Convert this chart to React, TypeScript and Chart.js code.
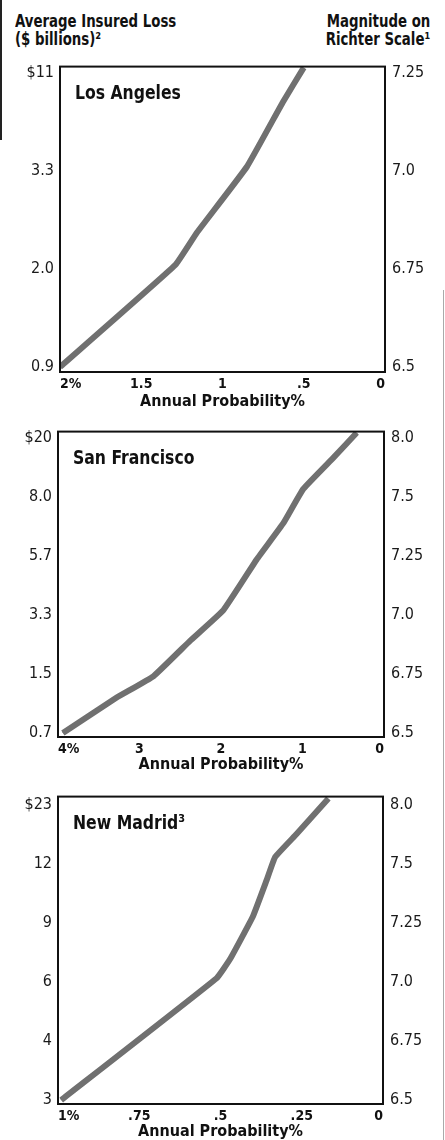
import React, { useEffect, useRef } from "react";
import { Chart, registerables } from "chart.js";

Chart.register(...registerables);

const FONT = "'Liberation Sans Narrow', 'DejaVu Sans Condensed', 'Arial Narrow', sans-serif";

// ---------- Data ----------
// Los Angeles
const laProb = [2.0, 1.29, 1.157, 0.85, 0.628, 0.5];
const laMag = [6.5, 6.76, 6.8425, 7.01, 7.175, 7.2625];
const laMagTicks = [6.5, 6.75, 7.0, 7.25];
const laMagLabels = ["6.5", "6.75", "7.0", "7.25"];
const laLossLabels = ["0.9", "2.0", "3.3", "$11"];
const laXTicks = [0, 0.5, 1, 1.5, 2];
const laXLabels = ["0", ".5", "1", "1.5", "2%"];

// San Francisco
const sfProb = [3.94, 3.28, 2.83, 2.38, 1.97, 1.56, 1.235, 0.99, 0.62, 0.335];
const sfMag = [6.5, 6.65, 6.74, 6.89, 7.02, 7.235, 7.3875, 7.565, 7.83, 8.04];
const sfMagTicks = [6.5, 6.75, 7.0, 7.25, 7.5, 8.0];
const sfMagLabels = ["6.5", "6.75", "7.0", "7.25", "7.5", "8.0"];
const sfLossLabels = ["0.7", "1.5", "3.3", "5.7", "8.0", "$20"];
const sfXTicks = [0, 1, 2, 3, 4];
const sfXLabels = ["0", "1", "2", "3", "4%"];

// New Madrid
const nmProb = [0.99, 0.512, 0.47, 0.4, 0.358, 0.332, 0.266, 0.168];
const nmMag = [6.5, 7.015, 7.0975, 7.2775, 7.43, 7.555, 7.75, 8.05];
const nmMagTicks = [6.5, 6.75, 7.0, 7.25, 7.5, 8.0];
const nmMagLabels = ["6.5", "6.75", "7.0", "7.25", "7.5", "8.0"];
const nmLossLabels = ["3", "4", "6", "9", "12", "$23"];
const nmXTicks = [0, 0.25, 0.5, 0.75, 1];
const nmXLabels = ["0", ".25", ".5", ".75", "1%"];

// ---------- Helpers ----------
function magToIndex(m: number, ticks: number[]): number {
  const n = ticks.length;
  let i = 0;
  while (i < n - 2 && m > ticks[i + 1]) i++;
  const a = ticks[i];
  const b = ticks[i + 1];
  return i + (m - a) / (b - a);
}

type PanelProps = {
  title: string;
  prob: number[];
  mag: number[];
  magTicks: number[];
  magLabels: string[];
  lossLabels: string[];
  xTicks: number[];
  xLabels: string[];
  layout: {
    boxLeft: number;
    boxRight: number;
    boxTop: number;
    boxBottom: number;
    idxMin: number;
    idxMax: number;
    canvasTop: number;
    canvasBottom: number;
  };
};

const W = 445;

function Panel(props: PanelProps) {
  const ref = useRef<HTMLCanvasElement | null>(null);
  const { layout } = props;
  const height = layout.canvasBottom - layout.canvasTop;

  useEffect(() => {
    const canvas = ref.current;
    if (!canvas) return;
    const ctx = canvas.getContext("2d");
    if (!ctx) return;

    const pc = document.createElement("canvas");
    pc.width = 4;
    pc.height = 4;
    const g = pc.getContext("2d")!;
    g.fillStyle = "#b8b8b8";
    g.fillRect(0, 0, 4, 4);
    g.fillStyle = "#6a6a6a";
    for (let i = 0; i < 4; i++) {
      g.fillRect(i, 3 - i, 1, 1);
    }
    const pattern = ctx.createPattern(pc, "repeat");

    const points = props.prob.map((p, i) => ({ x: p, y: magToIndex(props.mag[i], props.magTicks) }));
    const xMax = Math.max(...props.xTicks);

    const boxPlugin = {
      id: "boxAndTitle",
      afterDatasetsDraw(chart: any) {
        const { ctx: c, chartArea: a } = chart;
        c.save();
        c.strokeStyle = "#111";
        c.lineWidth = 2;
        c.strokeRect(a.left, a.top, a.right - a.left, a.bottom - a.top);
        c.fillStyle = "#111";
        c.font = `bold 20px ${FONT}`;
        c.textBaseline = "alphabetic";
        c.textAlign = "left";
        c.translate(a.left + 15, a.top + 32);
        c.scale(0.87, 1);
        c.fillText(props.title, 0, 0);
        c.restore();
      },
    };

    const chart = new Chart(ctx, {
      type: "line",
      data: {
        datasets: [
          {
            data: points,
            borderColor: "#707070",
            borderWidth: 6,
            pointRadius: 0,
            tension: 0.1,
            borderCapStyle: "butt",
            borderJoinStyle: "round",
            fill: false,
          },
          {
            data: points,
            borderColor: pattern as any,
            borderWidth: 3.5,
            pointRadius: 0,
            tension: 0.1,
            borderCapStyle: "butt",
            borderJoinStyle: "round",
            fill: false,
          },
        ],
      },
      options: {
        animation: false,
        responsive: false,
        maintainAspectRatio: false,
        devicePixelRatio: 1,
        events: [],
        layout: { padding: { top: layout.boxTop - layout.canvasTop, left: 0, right: 0, bottom: 0 } },
        plugins: { legend: { display: false }, tooltip: { enabled: false } },
        scales: {
          x: {
            type: "linear",
            position: "bottom",
            min: 0,
            max: xMax,
            reverse: true,
            grid: { display: false, drawTicks: false },
            border: { display: false },
            afterBuildTicks: (s: any) => {
              s.ticks = props.xTicks.map((v) => ({ value: v }));
            },
            afterFit: (s: any) => {
              s.height = layout.canvasBottom - layout.boxBottom;
            },
            ticks: {
              callback: (v: any) => {
                const i = props.xTicks.indexOf(Number(v));
                return i >= 0 ? props.xLabels[i] : "";
              },
              font: { family: FONT, weight: "bold", size: 14 },
              color: "#111",
              padding: 4,
              align: "inner",
              maxRotation: 0,
              autoSkip: false,
            },
            title: {
              display: true,
              text: "Annual Probability%",
              font: { family: FONT, weight: "bold", size: 16, lineHeight: 1 },
              color: "#111",
              padding: 0,
            },
          },
          y: {
            type: "linear",
            position: "left",
            min: layout.idxMin,
            max: layout.idxMax,
            grid: { display: false, drawTicks: false },
            border: { display: false },
            afterBuildTicks: (s: any) => {
              s.ticks = props.lossLabels.map((_, i) => ({ value: i }));
            },
            afterFit: (s: any) => {
              s.width = layout.boxLeft;
            },
            ticks: {
              callback: (v: any) => props.lossLabels[Math.round(Number(v))] ?? "",
              font: { family: FONT, size: 16 },
              color: "#1a1a1a",
              padding: 6,
              autoSkip: false,
            },
          },
          y2: {
            type: "linear",
            position: "right",
            min: layout.idxMin,
            max: layout.idxMax,
            grid: { display: false, drawTicks: false },
            border: { display: false },
            afterBuildTicks: (s: any) => {
              s.ticks = props.magLabels.map((_, i) => ({ value: i }));
            },
            afterFit: (s: any) => {
              s.width = W - layout.boxRight;
            },
            ticks: {
              callback: (v: any) => props.magLabels[Math.round(Number(v))] ?? "",
              font: { family: FONT, size: 16 },
              color: "#1a1a1a",
              padding: 7,
              autoSkip: false,
            },
          },
        },
      } as any,
      plugins: [boxPlugin],
    });
    return () => chart.destroy();
  }, []);

  return (
    <canvas
      ref={ref}
      width={W}
      height={height}
      style={{ position: "absolute", left: 0, top: layout.canvasTop, width: W, height }}
    />
  );
}

const headStyle: React.CSSProperties = {
  position: "absolute",
  top: 12,
  fontFamily: FONT,
  fontWeight: "bold",
  fontSize: 17,
  lineHeight: "18px",
  color: "#111",
  whiteSpace: "nowrap",
};

export default function App() {
  return (
    <div
      style={{
        position: "absolute",
        left: 0,
        top: 0,
        width: W,
        height: 1140,
        overflow: "hidden",
        background: "#fff",
      }}
    >
      <div style={{ position: "absolute", left: 0, top: 0, width: 2, height: 140, background: "#222" }} />
      <div style={{ position: "absolute", left: 443, top: 290, width: 1, height: 850, background: "#aaa" }} />
      <div style={{ ...headStyle, left: 15, transform: "scaleX(0.87)", transformOrigin: "left top" }}>
        Average Insured Loss
        <br />
        ($ billions)²
      </div>
      <div style={{ ...headStyle, right: 15, textAlign: "right", transform: "scaleX(0.87)", transformOrigin: "right top" }}>
        Magnitude on
        <br />
        Richter Scale¹
      </div>
      <Panel
        title="Los Angeles"
        prob={laProb}
        mag={laMag}
        magTicks={laMagTicks}
        magLabels={laMagLabels}
        lossLabels={laLossLabels}
        xTicks={laXTicks}
        xLabels={laXLabels}
        layout={{ boxLeft: 60, boxRight: 385, boxTop: 61, boxBottom: 372, idxMin: -0.05, idxMax: 3.06, canvasTop: 50, canvasBottom: 410 }}
      />
      <Panel
        title="San Francisco"
        prob={sfProb}
        mag={sfMag}
        magTicks={sfMagTicks}
        magLabels={sfMagLabels}
        lossLabels={sfLossLabels}
        xTicks={sfXTicks}
        xLabels={sfXLabels}
        layout={{ boxLeft: 58, boxRight: 384, boxTop: 427, boxBottom: 737, idxMin: -0.067, idxMax: 5.1, canvasTop: 415, canvasBottom: 773 }}
      />
      <Panel
        title="New Madrid³"
        prob={nmProb}
        mag={nmMag}
        magTicks={nmMagTicks}
        magLabels={nmMagLabels}
        lossLabels={nmLossLabels}
        xTicks={nmXTicks}
        xLabels={nmXLabels}
        layout={{ boxLeft: 58, boxRight: 383, boxTop: 792, boxBottom: 1104, idxMin: -0.067, idxMax: 5.133, canvasTop: 780, canvasBottom: 1140 }}
      />
    </div>
  );
}
